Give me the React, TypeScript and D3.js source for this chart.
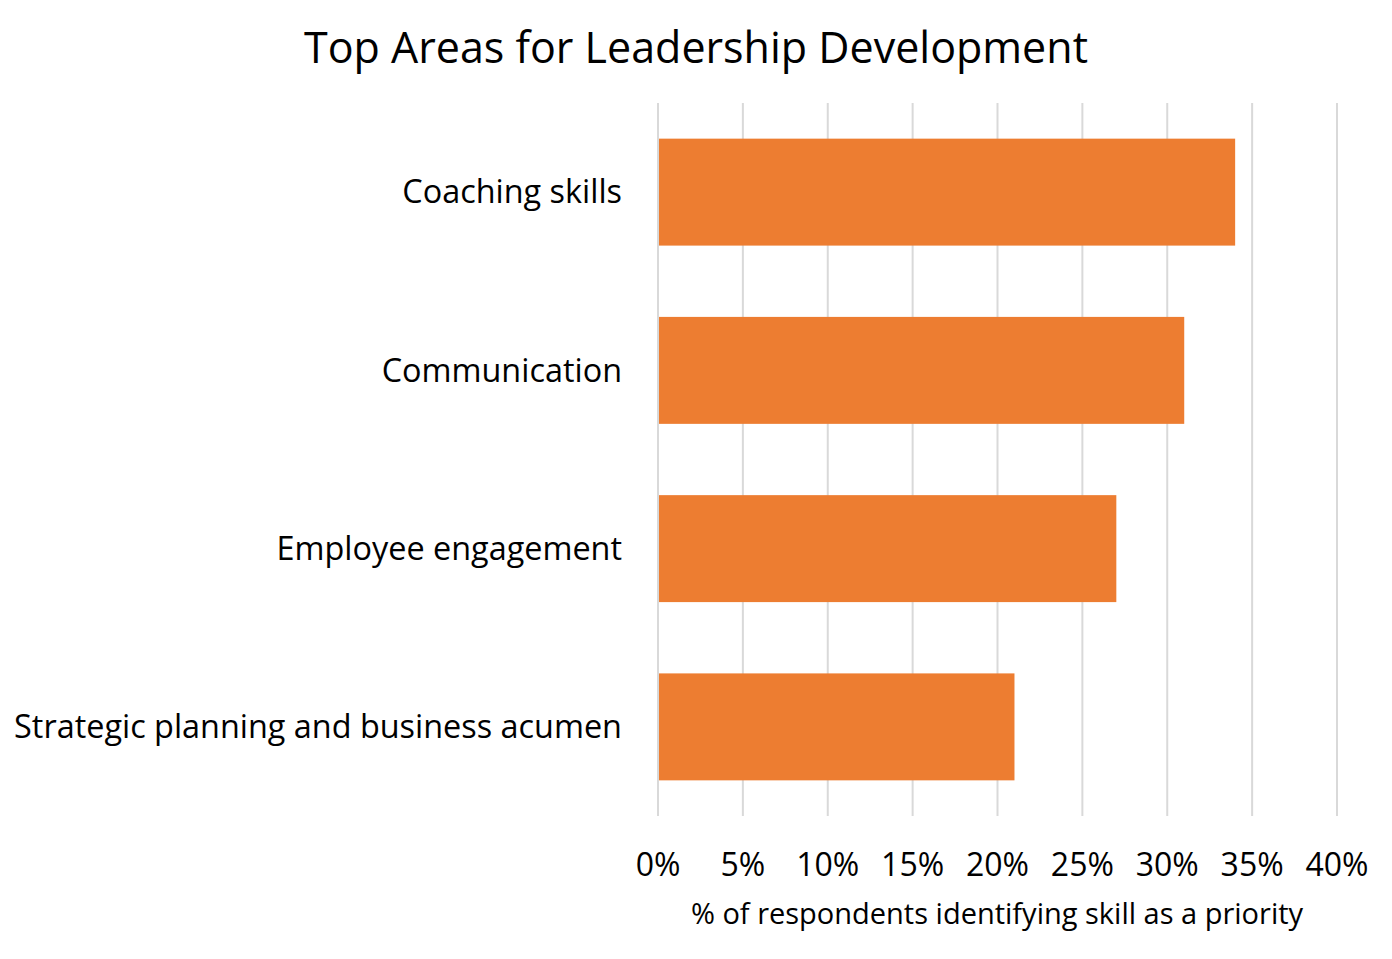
import React, { useEffect, useRef } from 'react';
import * as d3 from 'd3';

const CATEGORIES = [
  'Coaching skills',
  'Communication',
  'Employee engagement',
  'Strategic planning and business acumen',
];
const VALUES = [34, 31, 27, 21];
const TICKS = [0, 5, 10, 15, 20, 25, 30, 35, 40];
const TITLE = 'Top Areas for Leadership Development';
const X_TITLE = '% of respondents identifying skill as a priority';

const WIDTH = 1392;
const HEIGHT = 959;
const FONT = '"Open Sans", "Noto Sans", sans-serif';

const App: React.FC = () => {
  const svgRef = useRef<SVGSVGElement>(null);

  useEffect(() => {
    document.body.style.margin = '0';
    if (!svgRef.current) return;

    const svg = d3.select(svgRef.current);
    svg.selectAll('*').remove();

    const x = d3.scaleLinear().domain([0, 40]).range([658, 1337]);
    const y = d3
      .scaleBand()
      .domain(CATEGORIES)
      .range([103, 816])
      .paddingInner(0.4)
      .paddingOuter(0.2);

    svg.append('rect').attr('width', WIDTH).attr('height', HEIGHT).attr('fill', '#fff');

    // gridlines
    svg
      .append('g')
      .selectAll('line')
      .data(TICKS)
      .join('line')
      .attr('x1', (d) => x(d))
      .attr('x2', (d) => x(d))
      .attr('y1', 103)
      .attr('y2', 816)
      .attr('stroke', '#d9d9d9')
      .attr('stroke-width', 2);

    // bars
    svg
      .append('g')
      .selectAll('rect')
      .data(CATEGORIES)
      .join('rect')
      .attr('x', x(0) + 1)
      .attr('y', (d) => y(d) ?? 0)
      .attr('width', (d, i) => x(VALUES[i]) - x(0) - 1)
      .attr('height', y.bandwidth())
      .attr('fill', '#ed7d31');

    // category labels
    svg
      .append('g')
      .selectAll('text')
      .data(CATEGORIES)
      .join('text')
      .attr('x', 622)
      .attr('y', (d) => (y(d) ?? 0) + y.bandwidth() / 2)
      .attr('dy', '0.35em')
      .attr('text-anchor', 'end')
      .attr('font-family', FONT)
      .attr('font-size', 32.4)
      .attr('fill', '#000')
      .text((d) => d);

    // tick labels
    svg
      .append('g')
      .selectAll('text')
      .data(TICKS)
      .join('text')
      .attr('x', (d) => x(d))
      .attr('y', 865)
      .attr('dy', '0.35em')
      .attr('text-anchor', 'middle')
      .attr('font-family', FONT)
      .attr('font-size', 32)
      .attr('fill', '#000')
      .text((d) => `${d}%`);

    svg
      .append('text')
      .attr('x', 997)
      .attr('y', 914)
      .attr('dy', '0.35em')
      .attr('text-anchor', 'middle')
      .attr('font-family', FONT)
      .attr('font-size', 29)
      .attr('fill', '#000')
      .text(X_TITLE);

    svg
      .append('text')
      .attr('x', 696)
      .attr('y', 48)
      .attr('dy', '0.35em')
      .attr('text-anchor', 'middle')
      .attr('font-family', FONT)
      .attr('font-size', 43)
      .attr('fill', '#000')
      .text(TITLE);
  }, []);

  return <svg ref={svgRef} width={WIDTH} height={HEIGHT} style={{ display: 'block' }} />;
};

export default App;
